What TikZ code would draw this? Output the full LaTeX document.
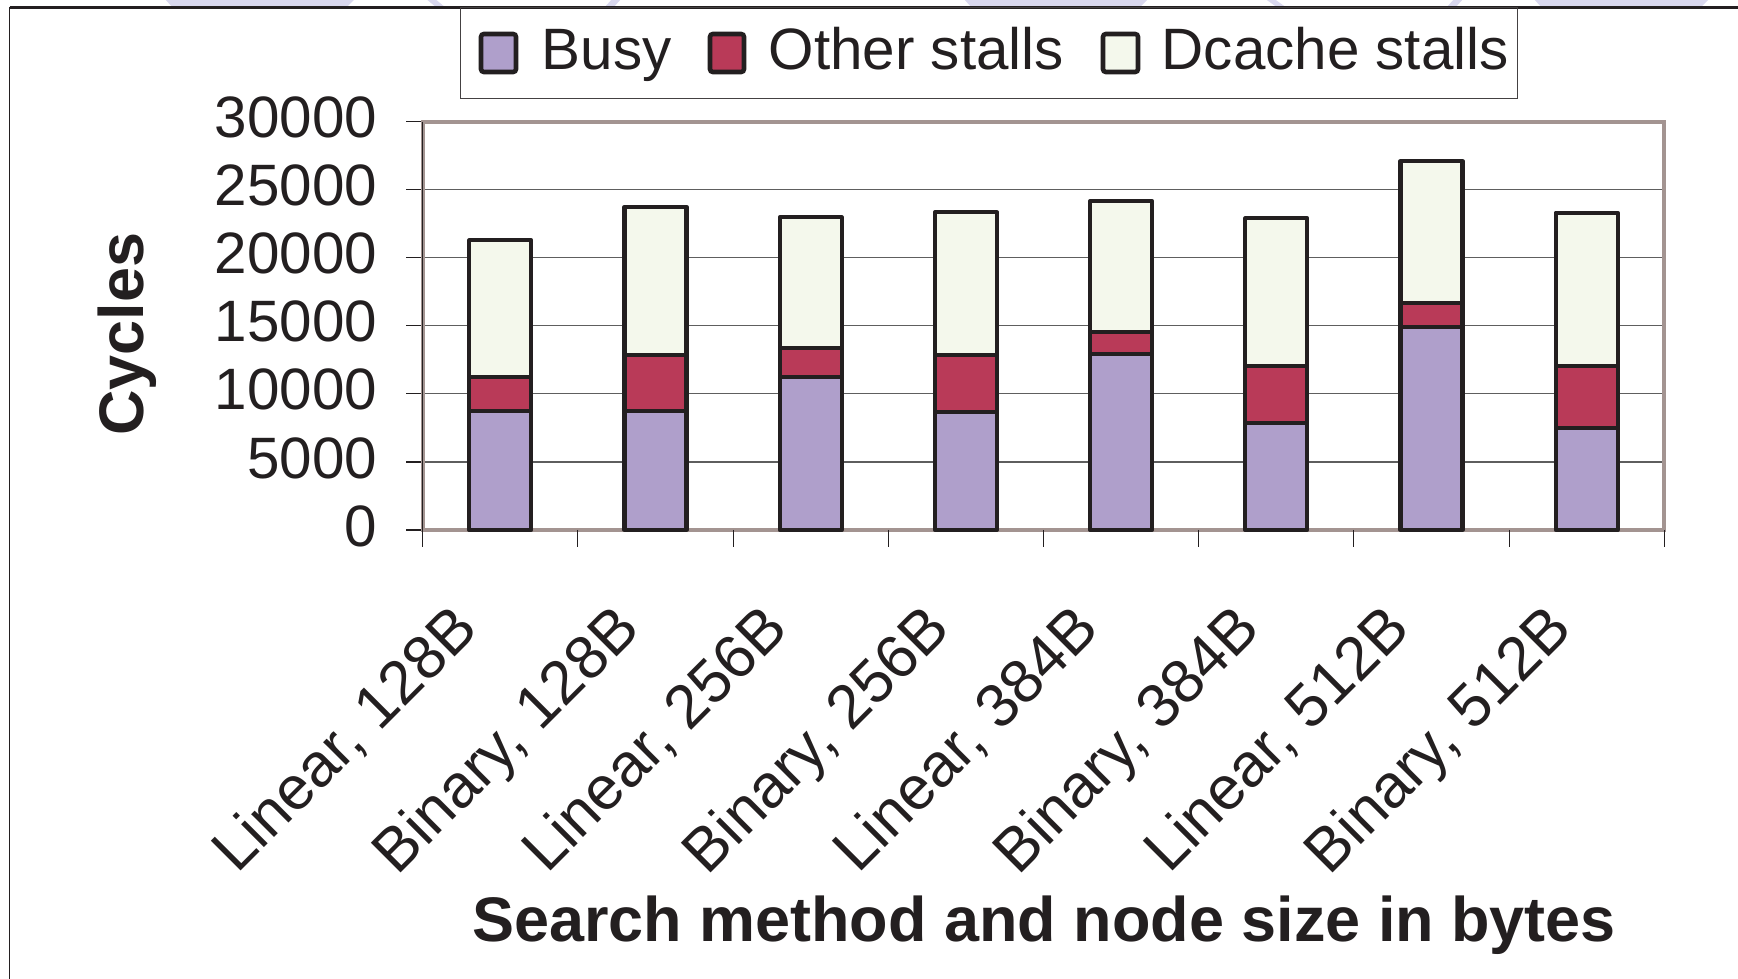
\documentclass[tikz,border=0pt]{standalone}
\usepackage{fontspec}
\setmainfont{Liberation Sans}
\definecolor{busyc}{HTML}{AF9FCB}
\definecolor{otherc}{HTML}{B93A58}
\definecolor{dcachec}{HTML}{F4F8EC}
\definecolor{ink}{HTML}{231F20}
\definecolor{plotedge}{HTML}{A39491}
\definecolor{gridc}{HTML}{5E5E5E}
\definecolor{tabc}{HTML}{D9D8EE}
\begin{document}
\begin{tikzpicture}[x=0.01cm, y=-0.01cm,
  barseg/.style={draw=ink, line width=1.15pt, line join=round},
  swatch/.style={draw=ink, line width=1.3pt, rounded corners=0.8pt},
  gridline/.style={draw=gridc, line width=0.32pt},
  tickmark/.style={draw=ink, line width=0.32pt},
  ticklabel/.style={font=\fontsize{16.6}{20}\selectfont, text=ink, inner sep=0pt},
  catlabel/.style={font=\fontsize{17.4}{20}\selectfont, text=ink, inner sep=0pt, rotate=45},
  lgtext/.style={font=\fontsize{16.6}{20}\selectfont, text=ink, inner sep=0pt},
  axtitle/.style={font=\fontsize{17.9}{21}\selectfont\bfseries, text=ink, inner sep=0pt}
]
\useasboundingbox (0,0) rectangle (1738,979);

% faint tabs peeking in at the top edge
\fill[tabc] (164,-2) -- (356,-2) -- (346,8) -- (173,8) -- cycle;
\fill[tabc] (425,-2) -- (434,-2) -- (446,8) -- (437,8) -- cycle;
\fill[tabc] (613,-2) -- (622,-2) -- (613,8) -- (604,8) -- cycle;
\fill[tabc] (963,-2) -- (1149,-2) -- (1139,8) -- (972,8) -- cycle;
\fill[tabc] (1264,-2) -- (1273,-2) -- (1287,8) -- (1278,8) -- cycle;
\fill[tabc] (1455,-2) -- (1464,-2) -- (1455,8) -- (1446,8) -- cycle;
\fill[tabc] (1533,-2) -- (1710,-2) -- (1700,8) -- (1542,8) -- cycle;

% outer frame
\draw[ink, line width=0.45pt] (9.5,1000) -- (9.5,7.5);
\draw[ink, line width=0.6pt] (9.5,7.5) -- (1760,7.5);

% legend
\draw[ink!85, line width=0.4pt] (460.6,7.5) rectangle (1517.5,98.3);
\filldraw[swatch, fill=busyc] (481,34) rectangle (516,72);
\node[lgtext, anchor=base west] (lbusy) at (541,70) {Busy};
\filldraw[swatch, fill=otherc] (710,34) rectangle (744,72);
\node[lgtext, anchor=base west] (lother) at (768,70) {Other stalls};
\filldraw[swatch, fill=dcachec] (1103,34) rectangle (1138,72);
\node[lgtext, anchor=base west] (ldcache) at (1161,70) {Dcache stalls};

% grid lines, value ticks and value labels
\foreach \v [count=\k from 0] in {0,5000,10000,15000,20000,25000,30000} {
  \draw[gridline] (422.7,{530-68.05*\k}) -- (1664.3,{530-68.05*\k});
  \draw[tickmark] (406,{530-68.05*\k}) -- (422.7,{530-68.05*\k});
  \node[ticklabel, anchor=east] (yl\k) at (378,{526-68.05*\k}) {\v};
}

% plot area border
\draw[plotedge, line width=1.15pt] (422.7,121.7) rectangle (1664.3,530);

% stacked bars: busy, other stalls, dcache stalls (cumulative tops, in hundreds of cycles)
\foreach \i/\b/\o/\t in {1/87.5/112.8/213.0, 2/87.5/128.7/237.7,
                         3/112.7/133.6/229.9, 4/87.0/128.9/233.6,
                         5/129.2/145.8/241.9, 6/78.9/120.8/229.2,
                         7/149.5/166.7/271.3, 8/74.8/120.6/233.3} {
  \pgfmathsetmacro\cx{422.7+155.2*(\i-0.5)}
  \filldraw[barseg, fill=dcachec] ({\cx-31},{530-1.36*\o}) rectangle ({\cx+31},{530-1.36*\t});
  \filldraw[barseg, fill=otherc] ({\cx-31},{530-1.36*\b}) rectangle ({\cx+31},{530-1.36*\o});
  \filldraw[barseg, fill=busyc] ({\cx-31},530) rectangle ({\cx+31},{530-1.36*\b});
}

% axis lines and category ticks
\draw[tickmark] (422.7,121.7) -- (422.7,547);
\foreach \k in {1,...,8} {
  \draw[tickmark] ({422.7+155.2*\k},530) -- ({422.7+155.2*\k},547);
}

% category labels
\foreach \i/\lab/\dx in {1/{Linear, 128B}/-19, 2/{Binary, 128B}/-13,
                         3/{Linear, 256B}/-20, 4/{Binary, 256B}/-13,
                         5/{Linear, 384B}/-19, 6/{Binary, 384B}/-13,
                         7/{Linear, 512B}/-19, 8/{Binary, 512B}/-12} {
  \node[catlabel, anchor=base east] (cl\i) at ({422.7+155.2*(\i-0.5)+\dx},631) {\lab};
}

% axis titles
\node[axtitle, rotate=90] (ytitle) at (127.5,334) {Cycles};
\node[axtitle, anchor=base] (xtitle) at (1044,942) {Search method and node size in bytes};
\end{tikzpicture}
\end{document}
